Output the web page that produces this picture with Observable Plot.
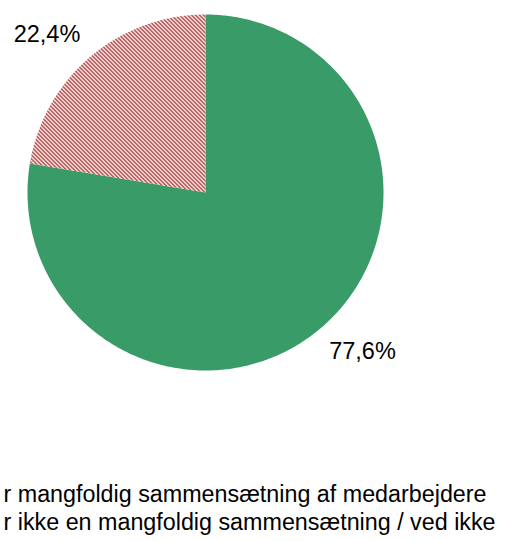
<!DOCTYPE html>
<html>
<head>
<meta charset="utf-8">
<script src="https://cdn.jsdelivr.net/npm/d3@7"></script>
<script src="https://cdn.jsdelivr.net/npm/@observablehq/plot@0.6"></script>
<style>
  html, body { margin: 0; padding: 0; background: #fff; overflow: hidden; }
  #chart { width: 509px; height: 541px; }
</style>
</head>
<body>
<div id="chart"></div>
<script>
// Data
const categories = ["Har mangfoldig sammensætning af medarbejdere", "Har ikke en mangfoldig sammensætning / ved ikke"];
const values = [77.6, 22.4];
const valueLabels = ["77,6%", "22,4%"];
const legendLabels = ["r mangfoldig sammensætning af medarbejdere", "r ikke en mangfoldig sammensætning / ved ikke"];

// Layout
const W = 509, H = 541;
const cx = 205, cy = 192, R = 178;
const fills = ["#389b68", "url(#hatch)"];

const pie = d3.pie().sort(null).value(d => d)(values);
const slicePts = [];
pie.forEach((p, i) => {
  const n = Math.max(2, Math.ceil((p.endAngle - p.startAngle) / 0.01));
  slicePts.push({i, x: cx, y: cy});
  for (let k = 0; k <= n; k++) {
    const a = p.startAngle + (p.endAngle - p.startAngle) * k / n;
    slicePts.push({i, x: cx + R * Math.sin(a), y: cy - R * Math.cos(a)});
  }
  slicePts.push({i, x: cx, y: cy});
});

const labelPos = [
  {x: 362, y: 351, text: valueLabels[0]},
  {x: 46.5, y: 33.5, text: valueLabels[1]}
];
const legendPos = legendLabels.map((t, i) => ({x: 3, y: 494 + i * 28, text: t}));

const chart = Plot.plot({
  width: W, height: H,
  margin: 0,
  x: {domain: [0, W], range: [0, W], axis: null},
  y: {domain: [0, H], range: [0, H], axis: null},
  style: {fontFamily: "Liberation Sans, Arial, sans-serif", background: "#fff"},
  marks: [
    Plot.line(slicePts.filter(d => d.i === 0), {x: "x", y: "y", fill: fills[0], stroke: "none", curve: "linear"}),
    Plot.line(slicePts.filter(d => d.i === 1), {x: "x", y: "y", fill: fills[1], stroke: "none", curve: "linear"}),
    Plot.text(labelPos, {x: "x", y: "y", text: "text", fontSize: 23.5, fill: "#000", textAnchor: "middle"}),
    Plot.text(legendPos, {x: "x", y: "y", text: "text", fontSize: 23.3, fill: "#000", textAnchor: "start"})
  ]
});

// hatch pattern definition: pixel-aligned "\" stripes, period 4px
const ns = "http://www.w3.org/2000/svg";
const defs = document.createElementNS(ns, "defs");
let cells = "";
for (let j = 0; j < 4; j++) {
  cells += `<rect x="${j}" y="${j}" width="1" height="1" fill="#9c2626"/>`;
  cells += `<rect x="${(j + 1) % 4}" y="${j}" width="1" height="1" fill="#b44646"/>`;
}
defs.innerHTML = `<pattern id="hatch" patternUnits="userSpaceOnUse" width="4" height="4">
  <rect width="4" height="4" fill="#ffffff"/>${cells}
</pattern>`;
chart.insertBefore(defs, chart.firstChild);
document.getElementById("chart").appendChild(chart);
</script>
</body>
</html>
